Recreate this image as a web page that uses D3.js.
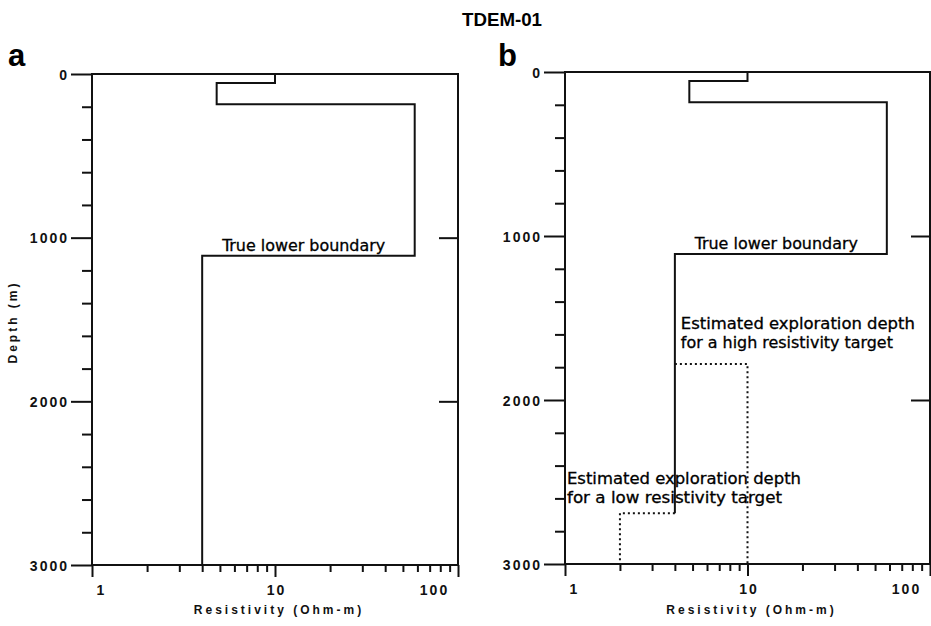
<!DOCTYPE html>
<html><head><meta charset="utf-8">
<script src="https://cdn.jsdelivr.net/npm/d3@7"></script>
<style>body{margin:0;background:#fff}svg{display:block}</style>
</head><body>
<svg id="c" width="931" height="626"></svg>
<script>
// ---- data ----
const title = "TDEM-01";
const panelLabels = ["a", "b"];
const depthMajorTicks = [0, 1000, 2000, 3000];
const depthMinorTicks = [200, 400, 600, 800, 1200, 1400, 1600, 1800, 2200, 2400, 2600, 2800];
const depthRightTicks = [1000, 2000];
const resMajorTicks = [1, 10, 100];
const resMinorTicks = [2, 3, 4, 5, 6, 7, 8, 9, 20, 30, 40, 50, 60, 70, 80, 90];
const layerResistivity = [10, 4.8, 58, 4];
const layerTop = [0, 55, 185, 1110];
const modelBottomA = 3000;
const modelBottomB = 2690;
const highTargetRes = 10, highTargetDepth = 1780;
const lowTargetRes = 2, lowTargetDepth = 2690;
const xLabel = "Resistivity (Ohm-m)";
const yLabel = "Depth (m)";
const boundaryText = "True lower boundary";
const highText = ["Estimated exploration depth", "for a high resistivity target"];
const lowText = ["Estimated exploration depth", "for a low resistivity target"];

const svg = d3.select("#c");
const numFont = "'Liberation Sans', Arial, sans-serif";
const txtFont = "'DejaVu Sans Condensed', 'DejaVu Sans', sans-serif";

svg.append("text").attr("x", 502).attr("y", 26).attr("text-anchor", "middle")
  .attr("font-family", numFont).attr("font-weight", "bold").attr("font-size", 18)
  .attr("textLength", 80).attr("lengthAdjust", "spacingAndGlyphs").text(title);

function panel(opts) {
  const x = d3.scaleLog().domain([1, 100]).range([opts.x0, opts.x1]);
  const y = d3.scaleLinear().domain([0, 3000]).range([opts.y0, opts.y1]);
  const g = svg.append("g");
  const stroke = "#111";

  // panel letter
  svg.append("text").attr("x", opts.labelX).attr("y", 66)
    .attr("font-family", numFont).attr("font-weight", "bold").attr("font-size", 31)
    .text(opts.label);

  // frame
  g.append("rect").attr("x", x(1)).attr("y", y(0)).attr("width", x(100) - x(1))
    .attr("height", y(3000) - y(0)).attr("fill", "none").attr("stroke", stroke).attr("stroke-width", 2);

  // left axis
  const yAxis = d3.axisLeft(y).tickValues(depthMajorTicks).tickSize(21).tickPadding(4)
    .tickFormat(d3.format("d"));
  const ya = g.append("g").attr("transform", `translate(${x(1)},0)`).call(yAxis);
  ya.select(".domain").remove();
  ya.selectAll("line").attr("stroke", stroke).attr("stroke-width", 2);
  ya.selectAll("text").attr("font-family", numFont).attr("font-weight", "bold")
    .attr("font-size", 14).attr("letter-spacing", "2px").attr("fill", "#111")
    .attr("dy", "0.36em").attr("dx", 2);
  const yMin = d3.axisLeft(y).tickValues(depthMinorTicks).tickSize(10).tickFormat("");
  const ym = g.append("g").attr("transform", `translate(${x(1)},0)`).call(yMin);
  ym.select(".domain").remove();
  ym.selectAll("line").attr("stroke", stroke).attr("stroke-width", 2);

  // right axis inward ticks
  const yR = d3.axisLeft(y).tickValues(depthRightTicks).tickSize(19).tickFormat("");
  const yr = g.append("g").attr("transform", `translate(${x(100)},0)`).call(yR);
  yr.select(".domain").remove();
  yr.selectAll("line").attr("stroke", stroke).attr("stroke-width", 2);

  // bottom axis
  const xAxis = d3.axisBottom(x).tickValues(resMajorTicks).tickSize(12).tickPadding(8)
    .tickFormat(d3.format("d"));
  const xa = g.append("g").attr("transform", `translate(0,${y(3000)})`).call(xAxis);
  xa.select(".domain").remove();
  xa.selectAll("line").attr("stroke", stroke).attr("stroke-width", 2);
  const nMaj = resMajorTicks.length;
  xa.selectAll("text").attr("font-family", numFont).attr("font-weight", "bold")
    .attr("font-size", 14).attr("letter-spacing", "2px").attr("fill", "#111")
    .attr("dx", (d, i) => i === 0 ? 9 : (i === nMaj - 1 ? -24 : 1));
  const xMin = d3.axisBottom(x).tickValues(resMinorTicks).tickSize(7).tickFormat("");
  const xm = g.append("g").attr("transform", `translate(0,${y(3000)})`).call(xMin);
  xm.select(".domain").remove();
  xm.selectAll("line").attr("stroke", stroke).attr("stroke-width", 2);

  // x label
  g.append("text").attr("x", (x(1) + x(100)) / 2 + 4).attr("y", 614).attr("text-anchor", "middle")
    .attr("font-family", numFont).attr("font-weight", "bold").attr("font-size", 12)
    .attr("letter-spacing", "3px").attr("fill", "#111").text(xLabel);

  // model
  const pts = [];
  layerResistivity.forEach((r, i) => {
    const top = layerTop[i];
    const bot = i < layerTop.length - 1 ? layerTop[i + 1] : opts.bottom;
    pts.push({ r, z: top }, { r, z: bot });
  });
  const line = d3.line().x(d => x(d.r)).y(d => y(d.z));
  g.append("path").attr("d", line(pts)).attr("fill", "none").attr("stroke", stroke)
    .attr("stroke-width", 2).attr("stroke-linejoin", "miter");

  // boundary text
  g.append("text").attr("x", x(layerResistivity[3]) + 20).attr("y", y(layerTop[3]) - 5)
    .attr("font-family", txtFont).attr("font-size", 16.5).attr("fill", "#000")
    .attr("stroke", "#000").attr("stroke-width", 0.3)
    .attr("textLength", 163).attr("lengthAdjust", "spacingAndGlyphs").text(boundaryText);

  return { g, x, y };
}

const A = panel({ x0: 92, x1: 458, y0: 74, y1: 565, bottom: modelBottomA, label: panelLabels[0], labelX: 8 });
const B = panel({ x0: 565, x1: 930, y0: 72, y1: 564, bottom: modelBottomB, label: panelLabels[1], labelX: 498 });

// y label (panel a only)
svg.append("text").attr("transform", "translate(17,322) rotate(-90)").attr("text-anchor", "middle")
  .attr("font-family", numFont).attr("font-weight", "bold").attr("font-size", 12)
  .attr("letter-spacing", "3px").attr("fill", "#111").text(yLabel);

// exploration depth targets (panel b)
const dotted = d3.line().x(d => B.x(d.r)).y(d => B.y(d.z));
const baseRes = layerResistivity[3];
B.g.append("path").attr("d", dotted([{ r: baseRes, z: highTargetDepth }, { r: highTargetRes, z: highTargetDepth }, { r: highTargetRes, z: 3000 }]))
  .attr("fill", "none").attr("stroke", "#111").attr("stroke-width", 2).attr("stroke-dasharray", "2,3");
B.g.append("path").attr("d", dotted([{ r: baseRes, z: lowTargetDepth }, { r: lowTargetRes, z: lowTargetDepth }, { r: lowTargetRes, z: 3000 }]))
  .attr("fill", "none").attr("stroke", "#111").attr("stroke-width", 2).attr("stroke-dasharray", "2,3");

const tl = [234, 212];
highText.forEach((t, i) => {
  B.g.append("text").attr("x", B.x(baseRes) + 6).attr("y", 329 + i * 19)
    .attr("font-family", txtFont).attr("font-size", 16.5).attr("fill", "#000")
    .attr("stroke", "#000").attr("stroke-width", 0.3)
    .attr("textLength", tl[i]).attr("lengthAdjust", "spacingAndGlyphs").text(t);
});
const tl2 = [234, 215];
lowText.forEach((t, i) => {
  B.g.append("text").attr("x", 567).attr("y", 484 + i * 19)
    .attr("font-family", txtFont).attr("font-size", 16.5).attr("fill", "#000")
    .attr("stroke", "#000").attr("stroke-width", 0.3)
    .attr("textLength", tl2[i]).attr("lengthAdjust", "spacingAndGlyphs").text(t);
});
</script>
</body></html>
